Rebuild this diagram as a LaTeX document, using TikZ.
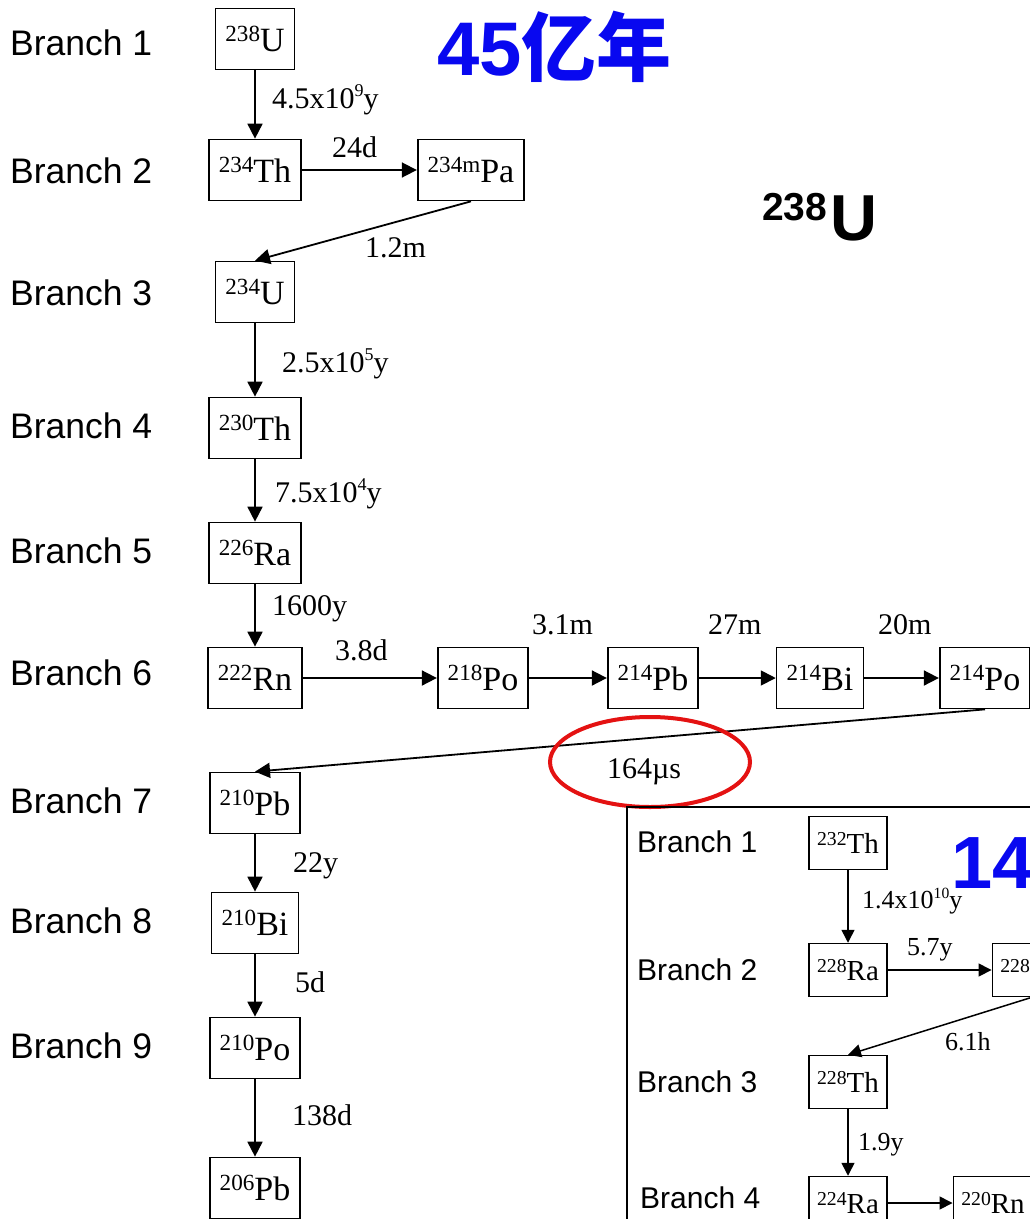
\documentclass[tikz,border=0pt]{standalone}
\usepackage{fontspec}
\setmainfont{Liberation Serif}
\newfontfamily\branchfont{Liberation Sans}
\newfontfamily\cjkfont{Noto Sans CJK SC}
\usetikzlibrary{arrows.meta,positioning}
\definecolor{titleblue}{RGB}{8,8,240}
\definecolor{markred}{RGB}{228,18,18}
\newcommand{\iso}[2]{\raisebox{0.3em}{\scalebox{0.68}{#1}}#2}
\newcommand{\pw}[1]{\raisebox{0.38em}{\scalebox{0.6}{#1}}}

\begin{document}
\begin{tikzpicture}[x=1pt,y=-1pt,>={Triangle[length=15pt,width=15pt]},
  nuc/.style={draw,line width=1.7pt,minimum height=61pt,inner xsep=10pt,font=\fontsize{34}{36}\selectfont},
  snuc/.style={nuc,line width=1.5pt,minimum height=53pt,inner xsep=8pt,font=\fontsize{29}{31}\selectfont},
  br/.style={anchor=base west,inner sep=0pt,font=\branchfont\fontsize{35.5}{38}\selectfont},
  sbr/.style={br,font=\branchfont\fontsize{30}{32}\selectfont},
  hl/.style={anchor=base west,inner sep=0pt,font=\fontsize{30}{32}\selectfont},
  shl/.style={hl,font=\fontsize{26}{28}\selectfont},
  decay/.style={->,line width=1.8pt},
  sdecay/.style={->,line width=1.5pt,>={Triangle[length=13pt,width=13pt]}}]
  \useasboundingbox (0,0) rectangle (1030,1219);
  \clip (0,0) rectangle (1030,1219);

  % uranium series
  \foreach \n/\y in {1/55,2/183,3/305,4/438,5/563,6/685,7/813,8/933,9/1058}
    \node[br] (b\n) at (10,\y) {Branch \n};
  \node[nuc] (u238) at (255,39) {\iso{238}{U}};
  \node[nuc] (th234) at (255,170) {\iso{234}{Th}};
  \node[nuc] (pa234) at (471,170) {\iso{234m}{Pa}};
  \node[nuc] (u234) at (255,292) {\iso{234}{U}};
  \node[nuc] (th230) at (255,428) {\iso{230}{Th}};
  \node[nuc] (ra226) at (255,553) {\iso{226}{Ra}};
  \node[nuc] (rn222) at (255,678) {\iso{222}{Rn}};
  \node[nuc] (po218) at (483,678) {\iso{218}{Po}};
  \node[nuc] (pb214) at (653,678) {\iso{214}{Pb}};
  \node[nuc] (bi214) at (820,678) {\iso{214}{Bi}};
  \node[nuc] (po214) at (985,678) {\iso{214}{Po}};
  \node[nuc] (pb210) at (255,803) {\iso{210}{Pb}};
  \node[nuc] (bi210) at (255,923) {\iso{210}{Bi}};
  \node[nuc] (po210) at (255,1048) {\iso{210}{Po}};
  \node[nuc] (pb206) at (255,1188) {\iso{206}{Pb}};

  \draw[decay] (u238) -- (th234);
  \draw[decay] (th234) -- (pa234);
  \draw[decay] (pa234.south) -- (u234.north);
  \draw[decay] (u234) -- (th230);
  \draw[decay] (th230) -- (ra226);
  \draw[decay] (ra226) -- (rn222);
  \draw[decay] (rn222) -- (po218);
  \draw[decay] (po218) -- (pb214);
  \draw[decay] (pb214) -- (bi214);
  \draw[decay] (bi214) -- (po214);
  \draw[decay] (po214.south) -- (pb210.north);
  \draw[decay] (pb210) -- (bi210);
  \draw[decay] (bi210) -- (po210);
  \draw[decay] (po210) -- (pb206);

  \node[hl] (t1) at (272,108) {4.5x10\pw{9}y};
  \node[hl] (t2) at (332,157) {24d};
  \node[hl] (t3) at (365,257) {1.2m};
  \node[hl] (t4) at (282,372) {2.5x10\pw{5}y};
  \node[hl] (t5) at (275,502) {7.5x10\pw{4}y};
  \node[hl] (t6) at (272,615) {1600y};
  \node[hl] (t7) at (335,660) {3.8d};
  \node[hl] (t8) at (532,634) {3.1m};
  \node[hl] (t9) at (708,634) {27m};
  \node[hl] (t10) at (878,634) {20m};
  \node[hl] (t11) at (607,778) {164µs};
  \node[hl] (t12) at (293,872) {22y};
  \node[hl] (t13) at (295,992) {5d};
  \node[hl] (t14) at (292,1125) {138d};

  \draw[markred,line width=4pt] (650,762) ellipse [x radius=100pt,y radius=45pt];

  \node[anchor=base west,inner sep=0pt,text=titleblue] (age1) at (437,75)
    {{\branchfont\bfseries\fontsize{76}{80}\selectfont 45}{\cjkfont\bfseries\fontsize{75}{80}\selectfont 亿年}};
  \node[anchor=base west,inner sep=0pt] (sym1) at (762,240)
    {\branchfont\bfseries\raisebox{20pt}{\fontsize{39}{40}\selectfont 238}\hspace{3pt}{\fontsize{65}{66}\selectfont U}};

  % thorium series (inset)
  \draw[line width=1.4pt] (627,1230) |- (1040,807);
  \foreach \n/\x/\y in {1/637/852,2/637/980,3/637/1092,4/640/1208}
    \node[sbr] (c\n) at (\x,\y) {Branch \n};
  \node[snuc] (th232) at (848,843) {\iso{232}{Th}};
  \node[snuc] (ra228) at (848,970) {\iso{228}{Ra}};
  \node[snuc] (ac228) at (1032,970) {\iso{228}{Ac}};
  \node[snuc] (th228) at (848,1082) {\iso{228}{Th}};
  \node[snuc] (ra224) at (848,1203) {\iso{224}{Ra}};
  \node[snuc] (rn220) at (993,1203) {\iso{220}{Rn}};

  \draw[sdecay] (th232) -- (ra228);
  \draw[sdecay] (ra228) -- (ac228);
  \draw[sdecay] (ac228.south) -- (th228.north);
  \draw[sdecay] (th228) -- (ra224);
  \draw[sdecay] (ra224) -- (rn220);

  \node[shl] (s1) at (862,908) {1.4x10\pw{10}y};
  \node[shl] (s2) at (907,955) {5.7y};
  \node[shl] (s3) at (945,1050) {6.1h};
  \node[shl] (s4) at (858,1150) {1.9y};
  \node[anchor=base west,inner sep=0pt,text=titleblue,font=\branchfont\bfseries\fontsize{74}{78}\selectfont] (age2) at (951,888) {14};
\end{tikzpicture}
\end{document}
